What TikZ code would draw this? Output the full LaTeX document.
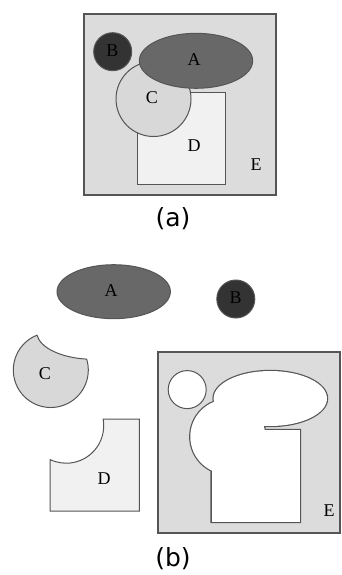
\documentclass[tikz,border=0pt]{standalone}
\usepackage{fontspec}
\setmainfont{Liberation Serif}
\newfontfamily\capfont{DejaVu Sans}
\definecolor{linegray}{HTML}{555555}
\definecolor{efill}{HTML}{DCDCDC}
\definecolor{afill}{HTML}{686868}
\definecolor{bfill}{HTML}{333333}
\definecolor{cfill}{HTML}{D8D8D8}
\definecolor{dfill}{HTML}{F1F1F1}
\begin{document}
\begin{tikzpicture}[x=1pt, y=-1pt,
        outl/.style = {draw=linegray, line width=1pt},
        frame/.style = {draw=linegray, line width=2pt, fill=efill},
        region/.style = {font=\fontsize{18}{18}\selectfont},
        caption/.style = {font=\capfont\fontsize{25}{25}\selectfont}]
    \useasboundingbox (0,0) rectangle (341,575);
    % (a) overlapping regions
    \draw[frame] (84,14) rectangle (276,195);
    \draw[outl, fill=dfill] (137.3,92.3) rectangle (225.7,184.3);
    \draw[outl, fill=cfill] (153.5,99) circle (37.5);
    \draw[outl, fill=afill] (196,60.8) ellipse (56.7 and 27.5);
    \draw[outl, fill=bfill] (112.7,51.7) circle (19);
    \node[region] (a1) at (194,60) {A};
    \node[region] (b1) at (112.5,51) {B};
    \node[region] (c1) at (152,98) {C};
    \node[region] (d1) at (194,146) {D};
    \node[region] (e1) at (256,165) {E};
    \node[caption] (capa) at (173,219) {(a)};
    % (b) pieces cut apart
    \draw[outl, fill=afill] (113.7,291.7) ellipse (56.7 and 27);
    \draw[outl, fill=bfill] (235.8,299) circle (19);
    \draw[outl, fill=cfill] (37.0,335.15) arc[start angle=-111.6, end angle=-376.9, radius=37.5]
        arc[start angle=96.7, end angle=173, x radius=56.7, y radius=27.5] -- cycle;
    \draw[outl, fill=dfill] (50,459.5) -- (50,511) -- (139.3,511) -- (139.3,419) -- (103.1,419)
        arc[start angle=-10.3, end angle=115.6, radius=37.5] -- cycle;
    \draw[frame] (158.3,351.7) rectangle (339.5,533.3);
    % holes left in E
    \draw[outl, fill=white] (187.2,389.6) circle (19);
    \begin{scope}[shift={(74.3,337.7)}]
        \draw[outl, line width=2.4pt] (137.3,92.3) rectangle (225.7,184.3)
            (153.5,99) circle (37.5) (196,60.8) ellipse (56.7 and 27.5);
        \fill[white] (137.3,92.3) rectangle (225.7,184.3);
        \fill[white] (153.5,99) circle (37.5);
        \fill[white] (196,60.8) ellipse (56.7 and 27.5);
    \end{scope}
    \node[region] (a2) at (111,291) {A};
    \node[region] (b2) at (235.5,298) {B};
    \node[region] (c2) at (45,374) {C};
    \node[region] (d2) at (104,479) {D};
    \node[region] (e2) at (329,511) {E};
    \node[caption] (capb) at (173,559) {(b)};
\end{tikzpicture}
\end{document}
